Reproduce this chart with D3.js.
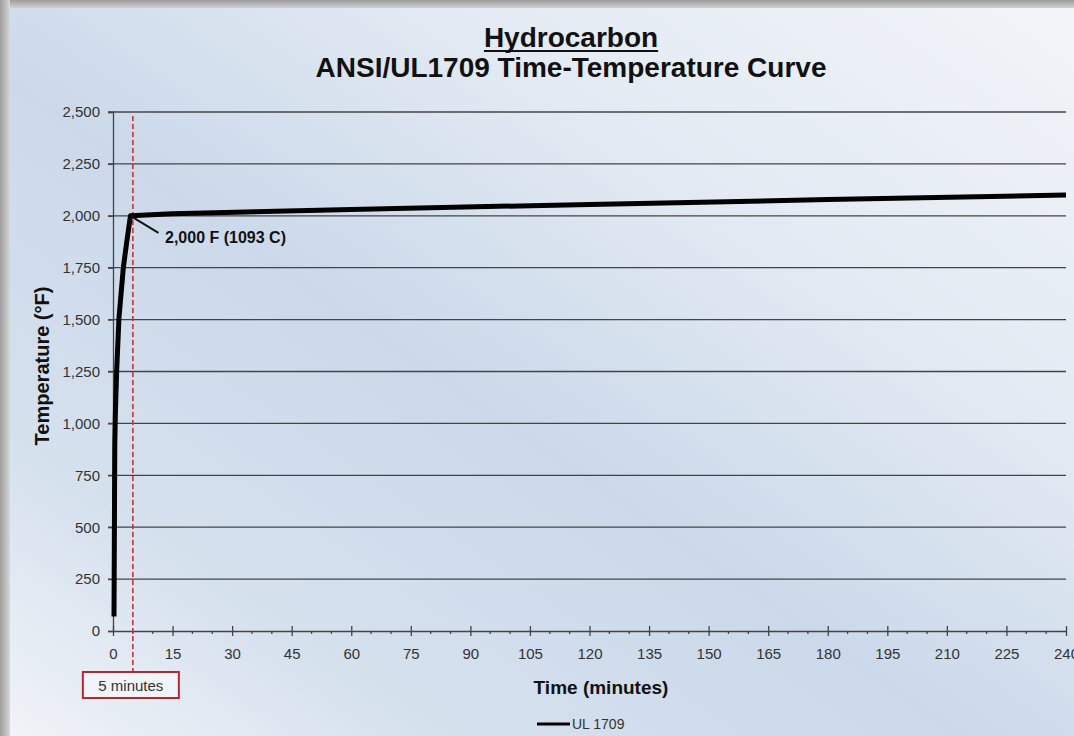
<!DOCTYPE html>
<html><head><meta charset="utf-8">
<script src="https://cdn.jsdelivr.net/npm/d3@7"></script>
<style>html,body{margin:0;padding:0;overflow:hidden;background:#fff}svg{display:block}text{font-family:"Liberation Sans",Arial,sans-serif}</style>
</head><body>
<svg id="c" width="1074" height="736"></svg>
<script>
// ---- data ----
const timeMin = [0.25, 0.45, 0.6, 0.93, 1.5, 2.6, 3.5, 4.4, 15, 60, 120, 180, 240];
const tempF   = [70, 900, 1050, 1257, 1507, 1750, 1880, 2000, 2010, 2030, 2055, 2078, 2100];
const xTicks = [0,15,30,45,60,75,90,105,120,135,150,165,180,195,210,225,240];
const yTicks = [0,250,500,750,1000,1250,1500,1750,2000,2250,2500];
const markerTime = 5;
const seriesName = "UL 1709";
const annotation = "2,000 F (1093 C)";
const markerLabel = "5 minutes";

const svg = d3.select("#c");
const W = 1074, H = 736;
const defs = svg.append("defs");
const bg = defs.append("linearGradient").attr("id","bg").attr("x1","1").attr("y1","0").attr("x2","0").attr("y2","1");
[[0,"#f2f5f9"],[0.3,"#e3eaf3"],[0.55,"#cbd9ea"],[0.8,"#d6e1ee"],[1,"#f1f4f8"]].forEach(s=>bg.append("stop").attr("offset",s[0]).attr("stop-color",s[1]));
const sh = defs.append("linearGradient").attr("id","shL").attr("x1","0").attr("x2","1");
sh.append("stop").attr("offset",0).attr("stop-color","#9c9c9c");
sh.append("stop").attr("offset",1).attr("stop-color","#d8d8d8");
const shT = defs.append("linearGradient").attr("id","shT").attr("x1","0").attr("y1","0").attr("x2","0").attr("y2","1");
shT.append("stop").attr("offset",0).attr("stop-color","#9c9c9c");
shT.append("stop").attr("offset",1).attr("stop-color","#d0d0d0");

svg.append("rect").attr("width",W).attr("height",H).attr("fill","url(#bg)");
svg.append("rect").attr("x",0).attr("y",0).attr("width",W).attr("height",8).attr("fill","url(#shT)");
svg.append("rect").attr("x",0).attr("y",0).attr("width",10).attr("height",H).attr("fill","url(#shL)");

const x = d3.scaleLinear().domain([0,240]).range([113,1066]);
const y = d3.scaleLinear().domain([0,2500]).range([631,112]);

// gridlines
svg.append("g").selectAll("line").data(yTicks.filter(d=>d>0)).join("line")
  .attr("x1",x(0)-5).attr("x2",x(240)).attr("y1",d=>y(d)).attr("y2",d=>y(d))
  .attr("stroke","#444").attr("stroke-width",1.3);

// y axis
const yAxis = svg.append("g").attr("transform",`translate(${x(0)},0)`)
  .call(d3.axisLeft(y).tickValues(yTicks).tickFormat(d3.format(",")).tickSize(5).tickPadding(8));
yAxis.select(".domain").attr("stroke","#444").attr("stroke-width",1.3);
yAxis.selectAll(".tick line").attr("stroke","#444").attr("stroke-width",1.3);
yAxis.selectAll("text").attr("font-size",15).attr("fill","#333").style("font-family","Liberation Sans, Arial, sans-serif");

// x axis
const xAxis = svg.append("g").attr("transform",`translate(0,${y(0)})`)
  .call(d3.axisBottom(x).tickValues(xTicks).tickSize(5).tickSizeOuter(0).tickPadding(12));
xAxis.select(".domain").attr("stroke","#444").attr("stroke-width",1.3);
xAxis.selectAll(".tick line").attr("stroke","#444").attr("stroke-width",1.3).attr("y1",-5);
xAxis.selectAll("text").attr("font-size",15).attr("fill","#333").style("font-family","Liberation Sans, Arial, sans-serif");
const minor = d3.range(5,240,5).filter(d=>d%15!==0);
svg.append("g").selectAll("line").data(minor).join("line")
  .attr("x1",d=>x(d)).attr("x2",d=>x(d)).attr("y1",y(0)).attr("y2",y(0)+3)
  .attr("stroke","#444").attr("stroke-width",1.3);

// 5 min marker
svg.append("line").attr("x1",x(markerTime)).attr("x2",x(markerTime)).attr("y1",116).attr("y2",672)
  .attr("stroke","#c7323a").attr("stroke-width",1.6).attr("stroke-dasharray","5,3");
svg.append("rect").attr("x",x(markerTime)-50).attr("y",672).attr("width",96).attr("height",26)
  .attr("fill","#f1f4f8").attr("stroke","#b8272e").attr("stroke-width",2);
svg.append("text").attr("x",x(markerTime)-2).attr("y",691).attr("text-anchor","middle")
  .attr("font-size",15).attr("fill","#333").text(markerLabel);

// curve
const pts = timeMin.map((t,i)=>[t,tempF[i]]);
svg.append("path").datum(pts)
  .attr("d",d3.line().x(d=>x(d[0])).y(d=>y(d[1])))
  .attr("fill","none").attr("stroke","#000").attr("stroke-width",5).attr("stroke-linejoin","round");

// annotation
const pk = pts[7];
svg.append("line").attr("x1",x(pk[0])).attr("y1",y(pk[1])).attr("x2",x(pk[0])+28).attr("y2",y(pk[1])+17)
  .attr("stroke","#111").attr("stroke-width",2);
svg.append("text").attr("x",165).attr("y",243).attr("font-size",16).attr("font-weight","bold").attr("fill","#111").text(annotation);

// titles
const t1 = svg.append("text").attr("x",571).attr("y",47).attr("text-anchor","middle")
  .attr("font-size",28).attr("font-weight","bold").attr("fill","#111").text("Hydrocarbon");
const bb = t1.node().getBBox();
svg.append("line").attr("x1",bb.x).attr("x2",bb.x+bb.width).attr("y1",51).attr("y2",51).attr("stroke","#111").attr("stroke-width",2.2);
svg.append("text").attr("x",571).attr("y",77).attr("text-anchor","middle")
  .attr("font-size",28).attr("font-weight","bold").attr("fill","#111").text("ANSI/UL1709 Time-Temperature Curve");

svg.append("text").attr("transform","translate(49,366) rotate(-90)").attr("text-anchor","middle")
  .attr("font-size",20).attr("font-weight","bold").attr("fill","#111").text("Temperature (°F)");
svg.append("text").attr("x",601).attr("y",694).attr("text-anchor","middle")
  .attr("font-size",19).attr("font-weight","bold").attr("fill","#111").text("Time (minutes)");

// legend
svg.append("line").attr("x1",537).attr("x2",570).attr("y1",724).attr("y2",724).attr("stroke","#000").attr("stroke-width",3);
svg.append("text").attr("x",572).attr("y",729).attr("font-size",14).attr("fill","#333").text(seriesName);
</script>
</body></html>
